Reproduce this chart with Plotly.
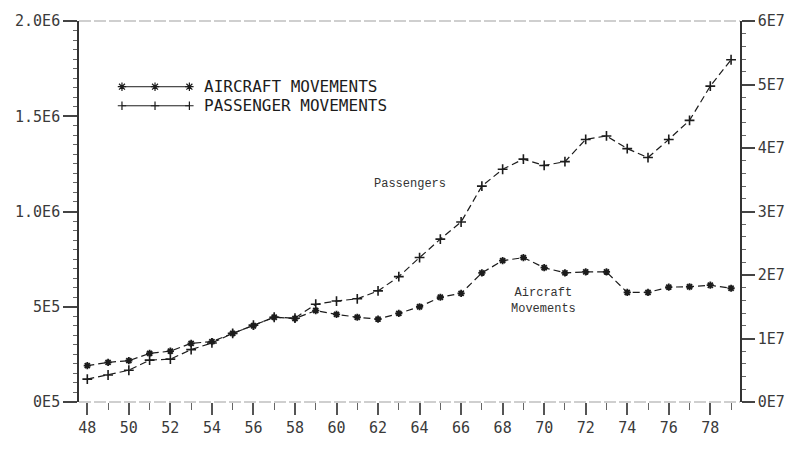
import plotly.graph_objects as go

# Airport traffic, 1948-1979
years = list(range(48, 80))
aircraft_movements = [
    191000, 208000, 217000, 255000, 267000, 308000, 317000, 360000,
    400000, 445000, 438000, 480000, 460000, 445000, 435000, 465000,
    500000, 550000, 570000, 678000, 742000, 758000, 705000, 678000,
    683000, 683000, 575000, 575000, 603000, 605000, 613000, 597000,
]
passenger_movements = [
    3.60e6, 4.25e6, 5.00e6, 6.60e6, 6.75e6, 8.25e6, 9.30e6, 10.8e6,
    12.1e6, 13.35e6, 13.2e6, 15.4e6, 15.9e6, 16.25e6, 17.5e6, 19.75e6,
    22.75e6, 25.65e6, 28.35e6, 34.0e6, 36.65e6, 38.25e6, 37.25e6, 37.85e6,
    41.35e6, 41.9e6, 39.9e6, 38.5e6, 41.35e6, 44.35e6, 49.75e6, 53.9e6,
]

x_tick_vals = list(range(48, 80, 2))
x_tick_text = [str(v) for v in x_tick_vals]
left_tick_vals = [0, 0.5e6, 1.0e6, 1.5e6, 2.0e6]
left_tick_text = ["0E5", "5E5", "1.0E6", "1.5E6", "2.0E6"]
right_tick_vals = [0, 1e7, 2e7, 3e7, 4e7, 5e7, 6e7]
right_tick_text = ["0E7", "1E7", "2E7", "3E7", "4E7", "5E7", "6E7"]

legend_labels = ["AIRCRAFT MOVEMENTS", "PASSENGER MOVEMENTS"]

INK = "#1c1c1c"
LABEL = "#3a3a3a"
TICK_FONT = dict(family="DejaVu Sans Mono", size=15, color=LABEL)
LINE_DASH = "7px,4px"

fig = go.Figure()

fig.add_trace(go.Scatter(
    x=years, y=aircraft_movements, name=legend_labels[0],
    mode="lines+markers",
    line=dict(color=INK, width=1.2, dash=LINE_DASH),
    marker=dict(symbol="asterisk-open", size=6, color=INK,
                line=dict(color=INK, width=1.8)),
    yaxis="y",
))
fig.add_trace(go.Scatter(
    x=years, y=passenger_movements, name=legend_labels[1],
    mode="lines+markers",
    line=dict(color=INK, width=1.2, dash=LINE_DASH),
    marker=dict(symbol="cross-thin-open", size=7, color=INK,
                line=dict(color=INK, width=1.6)),
    yaxis="y2",
))

# Hand-drawn key: three symbols joined by a solid line per series
key_x = [0.065, 0.115, 0.167]
key_rows = [(0.8275, "asterisk-open", 7), (0.7775, "cross-thin-open", 6)]
for row_y, sym, size in key_rows:
    fig.add_trace(go.Scatter(
        x=key_x, y=[row_y] * 3, mode="lines+markers",
        line=dict(color=INK, width=1.0),
        marker=dict(symbol=sym, size=size, color=INK, line=dict(color=INK, width=1.2)),
        xaxis="x3", yaxis="y3", showlegend=False, hoverinfo="skip",
    ))
for (row_y, _, _), label in zip(key_rows, legend_labels):
    fig.add_annotation(
        xref="paper", yref="paper", x=0.186, y=row_y, text=label,
        showarrow=False, xanchor="left", yanchor="middle",
        font=dict(family="DejaVu Sans Mono", size=16, color=INK),
    )

# In-plot series labels
fig.add_annotation(
    x=63.55, y=3.44e7, xref="x", yref="y2", text="Passengers",
    showarrow=False, font=dict(family="Liberation Mono", size=12, color="#333"),
)
fig.add_annotation(
    x=69.97, y=5.3e5, xref="x", yref="y", text="Aircraft<br>Movements",
    showarrow=False, align="center",
    font=dict(family="Liberation Mono", size=12, color="#333"),
)

# Faint top and bottom frame lines
for yv in (0, 1):
    fig.add_shape(type="line", xref="paper", yref="paper", x0=0, x1=1, y0=yv, y1=yv,
                  line=dict(color="#a0a0a0", width=1.2, dash="12px,3px"))

fig.update_layout(
    width=797, height=449,
    margin=dict(l=79, r=53, t=15, b=34),
    paper_bgcolor="white", plot_bgcolor="white",
    showlegend=False,
    xaxis=dict(
        range=[47.6, 79.43], tickvals=x_tick_vals, ticktext=x_tick_text,
        ticks="outside", ticklen=12, tickwidth=1.5, tickcolor="#555",
        minor=dict(dtick=1, tick0=48, ticks="outside", ticklen=7, tickwidth=1.3, tickcolor="#666"),
        showgrid=False, zeroline=False, showline=False,
        tickfont=TICK_FONT,
    ),
    yaxis=dict(
        range=[0, 2.0e6], tickvals=left_tick_vals, ticktext=left_tick_text,
        ticks="outside", ticklen=14, tickwidth=1.5, tickcolor="#444",
        minor=dict(dtick=0.05e6, tick0=0, ticks="outside", ticklen=4, tickwidth=1.3, tickcolor="#666"),
        showgrid=False, zeroline=False,
        showline=True, linecolor="#333", linewidth=1.6,
        tickfont=TICK_FONT,
    ),
    yaxis2=dict(
        range=[0, 6e7], tickvals=right_tick_vals, ticktext=right_tick_text,
        overlaying="y", side="right",
        ticks="outside", ticklen=13, tickwidth=1.5, tickcolor="#444",
        minor=dict(dtick=2e6, tick0=0, ticks="outside", ticklen=4, tickwidth=1.3, tickcolor="#666"),
        showgrid=False, zeroline=False,
        showline=True, linecolor="#333", linewidth=1.6,
        tickfont=TICK_FONT,
    ),
    xaxis3=dict(range=[0, 1], overlaying="x", visible=False),
    yaxis3=dict(range=[0, 1], overlaying="y", visible=False),
)

fig.write_html("out.html")
